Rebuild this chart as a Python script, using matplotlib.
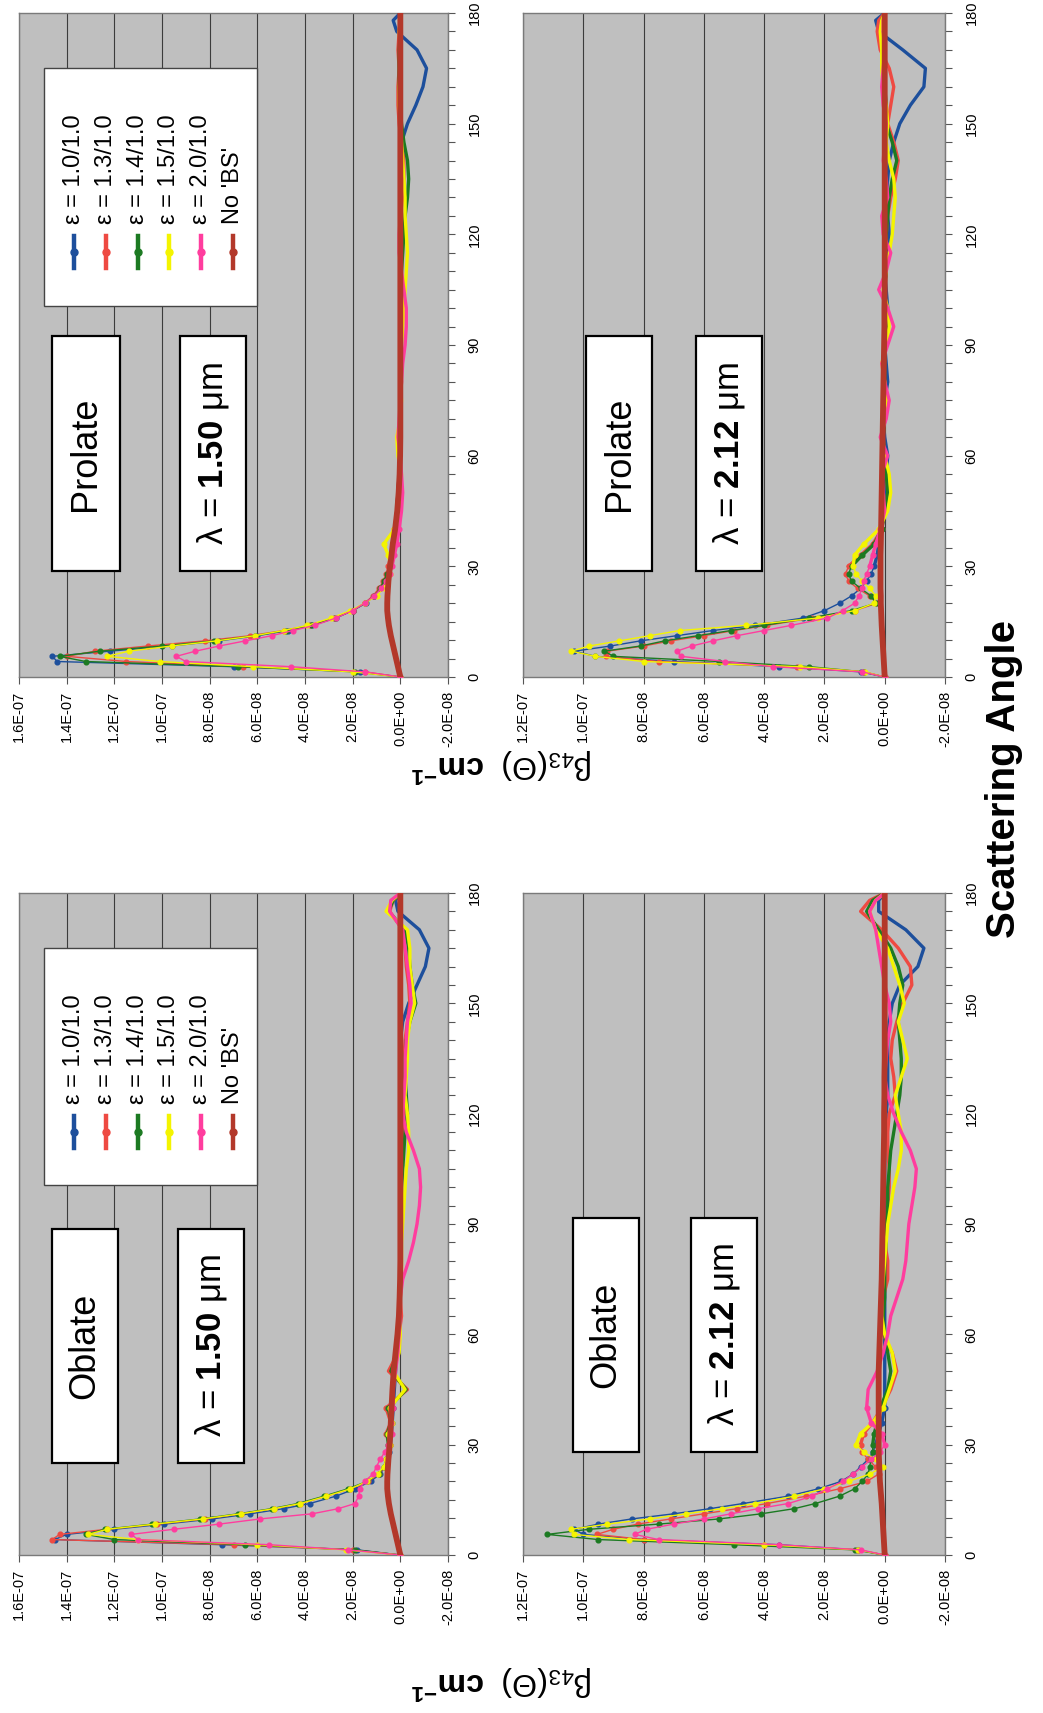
import numpy as np
import matplotlib
matplotlib.use("Agg")
import matplotlib.pyplot as plt
from matplotlib.patches import Rectangle
from matplotlib.lines import Line2D
from matplotlib.ticker import MultipleLocator

plt.rcParams['font.family'] = ['Liberation Sans', 'DejaVu Sans']
plt.rcParams['mathtext.fontset'] = 'custom'
plt.rcParams['mathtext.rm'] = 'Liberation Sans'
plt.rcParams['mathtext.it'] = 'Liberation Sans:italic'
plt.rcParams['mathtext.bf'] = 'Liberation Sans:bold'

# ---------------- data (values in units of 1e-8 cm^-1) ----------------
ANGLES = [0, 1.4, 2.8, 4.2, 5.6, 7, 8.4, 9.8, 11.2, 12.6, 14, 16, 18, 20, 22, 24, 26, 28, 30, 33, 36, 40,
          45, 50, 55, 60, 65, 70, 75, 80, 85, 90,
          95, 100, 105, 110, 115, 120, 125, 130, 135, 140,
          145, 150, 155, 160, 165, 170, 175, 178, 180]

SERIES = ['ε = 1.0/1.0', 'ε = 1.3/1.0', 'ε = 1.4/1.0', 'ε = 1.5/1.0', 'ε = 2.0/1.0', "No 'BS'"]
COLORS = ['#1d4f9c', '#ee4a42', '#1c7a22', '#f4f400', '#ff3d9e', '#b3382a']

# Prolate, lambda = 1.50 um
PRO150_E10 = [0, 1.7, 7.0, 14.4, 14.6, 12.2, 9.6, 7.6, 6.0, 4.7, 3.7, 2.7, 2.0, 1.45, 1.1, 0.85, 0.7, 0.55, 0.45, 0.35, 0.3, 0.22,
              0.15, 0.1, 0.05, 0.03, 0.02, 0, 0, 0, 0, 0,
              0, 0, 0, 0, 0, 0, 0, 0, 0, 0,
              -0.05, -0.3, -0.65, -0.95, -1.1, -0.7, 0.15, 0.3, 0]
PRO150_E13 = [0, 1.5, 6.6, 11.5, 14.0, 12.8, 10.6, 8.2, 6.3, 4.9, 3.8, 2.8, 2.0, 1.5, 1.15, 0.9, 0.72, 0.6, 0.5, 0.4, 0.32, 0.25,
              0.15, 0.1, 0.05, 0.05, 0, 0, 0, -0.05, 0, 0,
              0, -0.05, 0, 0, 0, -0.05, 0, -0.1, -0.15, -0.15,
              -0.05, 0.05, 0.1, 0.1, 0.05, 0.1, 0.05, 0, 0]
PRO150_E14 = [0, 1.9, 6.8, 13.2, 14.3, 12.6, 10.0, 7.8, 6.1, 4.8, 3.75, 2.75, 2.0, 1.5, 1.1, 0.85, 0.7, 0.55, 0.45, 0.35, 0.3, 0.22,
              0.15, 0.1, 0.05, 0, 0.05, 0, 0, 0, 0, 0,
              0, 0, 0, -0.05, -0.1, -0.15, -0.2, -0.3, -0.35, -0.3,
              -0.15, -0.05, 0, 0.05, 0.05, 0.05, 0, 0, 0]
PRO150_E15 = [0, 2.0, 6.2, 10.1, 12.3, 11.4, 9.6, 7.7, 6.1, 4.9, 3.9, 2.9, 2.1, 1.5, 1.0, 0.7, 0.55, 0.45, 0.4, 0.5, 0.7, 0.25,
              0.1, 0.0, -0.05, 0.1, 0.15, 0, -0.05, 0, 0, -0.05,
              -0.1, -0.15, -0.2, -0.25, -0.3, -0.25, -0.2, -0.2, -0.15, -0.1,
              -0.05, 0, 0.05, 0.05, 0, 0, 0.05, 0, 0]
PRO150_E20 = [0, 1.5, 4.6, 9.0, 9.4, 8.6, 7.6, 6.5, 5.4, 4.5, 3.6, 2.7, 2.0, 1.5, 1.1, 0.8, 0.6, 0.45, 0.35, 0.25, 0.15, 0.05,
              -0.05, -0.1, -0.05, 0, 0.1, 0.05, 0, -0.05, -0.1, -0.2,
              -0.25, -0.25, -0.15, -0.05, 0.05, 0.05, 0, -0.05, -0.05, 0,
              0, 0, 0, 0, 0, 0, 0, 0, 0]
PRO150_NOBS = [0, 0.05, 0.1, 0.15, 0.2, 0.25, 0.3, 0.35, 0.4, 0.44, 0.48, 0.52, 0.55, 0.55, 0.54, 0.52, 0.5, 0.47, 0.43, 0.37, 0.32, 0.22,
               0.13, 0.07, 0.03, 0.01, 0, 0, 0, 0, 0, 0,
               0, 0, 0, 0, 0, 0, 0, 0, 0, 0,
               0, 0, 0, 0, 0, 0, 0, 0, 0]

# Prolate, lambda = 2.12 um
PRO212_E10 = [0, 0.8, 3.5, 7.0, 9.6, 10.3, 9.1, 8.1, 6.9, 5.7, 4.3, 2.7, 2.0, 1.5, 1.1, 0.8, 0.6, 0.45, 0.35, 0.25, 0.2, 0.1,
              0.05, 0, -0.05, -0.1, 0, 0.05, 0, -0.1, -0.05, 0,
              -0.05, -0.1, -0.05, 0, -0.1, -0.15, -0.1, -0.05, -0.1, -0.15,
              -0.3, -0.5, -0.85, -1.3, -1.35, -0.6, 0.2, 0.3, 0]
PRO212_E13 = [0, 0.7, 2.9, 7.5, 9.25, 9.2, 8.0, 7.1, 6.0, 5.0, 3.9, 2.4, 1.0, 0.25, 0.5, 0.9, 1.2, 1.3, 1.2, 0.8, 0.4, 0.1,
              0, -0.1, -0.05, 0, 0.05, 0, -0.05, 0, 0.05, 0,
              -0.05, 0, 0, -0.05, 0, -0.05, -0.1, -0.2, -0.35, -0.45,
              -0.3, -0.1, -0.2, -0.3, -0.15, 0.15, 0.25, 0.2, 0]
PRO212_E14 = [0, 0.7, 2.5, 5.5, 9.0, 9.3, 8.1, 7.3, 6.2, 5.1, 4.0, 2.5, 1.1, 0.3, 0.45, 0.8, 1.1, 1.2, 1.1, 0.75, 0.35, 0.1,
              0, -0.1, -0.05, 0, 0.05, 0, 0, 0, 0, 0,
              -0.05, 0, 0, -0.05, 0, -0.05, -0.1, -0.15, -0.25, -0.4,
              -0.25, -0.05, -0.05, 0, 0, 0.05, 0.1, 0.1, 0]
PRO212_E15 = [0, 0.65, 2.8, 8.0, 9.6, 10.4, 9.8, 8.8, 7.8, 6.8, 4.6, 2.2, 1.0, 0.35, 0.3, 0.5, 0.75, 0.95, 1.05, 1.0, 0.7, 0.2,
              -0.1, -0.2, -0.15, 0, 0.1, 0.05, -0.05, 0, 0.1, -0.05,
              -0.15, -0.1, 0.05, -0.05, -0.15, -0.25, -0.3, -0.35, -0.3, -0.15,
              -0.05, -0.1, -0.05, 0.05, 0.1, 0.1, 0.15, 0.1, 0]
PRO212_E20 = [0, 0.75, 3.7, 5.3, 6.75, 6.9, 6.4, 5.7, 4.9, 4.0, 3.1, 1.9, 1.4, 1.0, 0.85, 0.75, 0.7, 0.6, 0.5, 0.4, 0.3, 0.15,
              0, 0.05, 0.1, -0.1, 0.15, -0.05, -0.15, 0.0, 0.1, -0.1,
              -0.3, -0.1, 0.2, -0.05, -0.2, 0.05, 0.1, -0.1, -0.05, 0.05,
              0.0, -0.05, 0.05, 0.1, 0.05, 0, 0.05, 0.05, 0]
PRO212_NOBS = [0, 0.01, 0.02, 0.03, 0.04, 0.05, 0.06, 0.07, 0.08, 0.09, 0.1, 0.11, 0.12, 0.13, 0.13, 0.14, 0.14, 0.14, 0.14, 0.14, 0.13, 0.12,
               0.11, 0.1, 0.09, 0.08, 0.07, 0.06, 0.05, 0.04, 0.03, 0.02,
               0.01, 0.01, 0, 0, 0, 0, 0, 0, 0, 0,
               0, 0, 0, 0, 0, 0, 0, 0, 0]

# Oblate, lambda = 1.50 um
OBL150_E10 = [0, 1.8, 7.5, 14.5, 14.0, 12.0, 9.9, 7.9, 6.3, 4.9, 3.8, 2.7, 1.9, 1.25, 0.85, 0.65, 0.55, 0.48, 0.42, 0.38, 0.34, 0.3,
              0.25, 0.2, 0.15, 0.1, 0.05, 0, 0, 0, 0, 0,
              0, 0, 0, 0, 0, 0, 0, 0, 0, 0,
              -0.1, -0.35, -0.7, -1.05, -1.2, -0.8, 0.1, 0.2, 0]
OBL150_E13 = [0, 2.0, 7.0, 14.6, 14.3, 12.3, 10.2, 8.2, 6.7, 5.3, 4.2, 3.1, 2.1, 1.35, 0.9, 0.65, 0.55, 0.5, 0.45, 0.6, 0.4, 0.6,
              -0.3, 0.5, 0.1, 0.05, -0.05, 0, 0, 0, 0, 0,
              0, 0, -0.05, -0.1, -0.1, -0.15, -0.1, -0.1, -0.15, -0.2,
              -0.3, -0.4, -0.35, -0.25, -0.2, -0.1, 0.45, 0.3, 0]
OBL150_E14 = [0, 1.9, 6.5, 12.0, 13.2, 12.4, 10.4, 8.4, 6.8, 5.4, 4.3, 3.2, 2.2, 1.4, 0.9, 0.7, 0.6, 0.5, 0.5, 0.55, 0.4, 0.5,
              -0.25, 0.4, 0.1, 0.05, 0, 0, 0, 0, 0, -0.05,
              -0.05, -0.05, -0.1, -0.15, -0.2, -0.3, -0.25, -0.2, -0.2, -0.25,
              -0.4, -0.65, -0.5, -0.4, -0.35, -0.2, 0.5, 0.3, 0]
OBL150_E15 = [0, 2.3, 6.0, 11.0, 13.1, 12.3, 10.3, 8.3, 6.7, 5.3, 4.2, 3.1, 2.1, 1.4, 0.95, 0.7, 0.6, 0.5, 0.45, 0.5, 0.35, 0.45,
              -0.2, 0.3, 0.05, 0, 0.05, 0, -0.05, -0.05, -0.05, -0.1,
              -0.15, -0.2, -0.25, -0.35, -0.35, -0.3, -0.2, -0.25, -0.3, -0.3,
              -0.4, -0.6, -0.5, -0.4, -0.4, -0.3, 0.6, 0.35, 0]
OBL150_E20 = [0, 2.2, 5.5, 11.0, 11.3, 9.5, 7.6, 5.9, 3.7, 2.6, 1.9, 1.75, 1.7, 1.5, 1.15, 1.0, 0.85, 0.65, 0.5, 0.35, 0.4, 0.3,
              0.3, 0.2, 0.1, 0.05, 0, 0, -0.1, -0.35, -0.55, -0.7,
              -0.8, -0.85, -0.8, -0.55, -0.25, -0.1, -0.15, -0.2, -0.2, -0.25,
              -0.3, -0.45, -0.4, -0.3, -0.2, -0.1, 0.45, 0.4, 0]
OBL150_NOBS = [0, 0.05, 0.1, 0.15, 0.2, 0.25, 0.3, 0.35, 0.4, 0.44, 0.48, 0.52, 0.55, 0.55, 0.54, 0.52, 0.5, 0.47, 0.45, 0.42, 0.4, 0.37,
               0.33, 0.28, 0.2, 0.12, 0.06, 0.03, 0.01, 0, 0, 0,
               0, 0, 0, 0, 0, 0, 0, 0, 0, 0,
               0, 0, 0, 0, 0, 0, 0, 0, 0]

# Oblate, lambda = 2.12 um
OBL212_E10 = [0, 0.9, 3.5, 8.0, 10.0, 10.3, 9.5, 8.4, 7.0, 5.8, 4.7, 3.2, 2.2, 1.45, 1.05, 0.8, 0.55, 0.4, 0.3, 0.2, 0.1, 0.0,
              0, 0, 0, 0, 0, 0, 0, 0, 0, 0,
              0, 0, 0, 0, -0.05, -0.05, -0.1, -0.1, -0.1, -0.1,
              -0.15, -0.25, -0.5, -1.1, -1.3, -0.7, 0.2, 0.2, 0]
OBL212_E13 = [0, 0.9, 4.0, 8.0, 9.55, 9.0, 8.2, 7.1, 6.0, 4.9, 3.9, 2.6, 1.5, 0.6, 0.2, 0.3, 0.55, 0.75, 0.8, 0.7, 0.4, 0.1,
              -0.2, -0.4, -0.25, 0.05, 0.1, 0.05, -0.1, -0.1, 0, -0.05,
              -0.1, -0.15, -0.15, -0.1, -0.1, -0.15, -0.35, -0.3, -0.2, -0.25,
              -0.4, -0.6, -0.9, -0.85, -0.45, 0.1, 0.8, 0.5, 0]
OBL212_E14 = [0, 1.0, 5.0, 9.5, 11.2, 9.8, 7.5, 5.5, 4.1, 3.0, 2.3, 1.5, 1.0, 0.75, 0.55, 0.5, 0.45, 0.4, 0.4, 0.35, 0.25, 0.15,
              -0.1, -0.2, -0.1, 0, 0.05, 0, 0, 0, -0.05, -0.05,
              -0.1, -0.1, -0.15, -0.2, -0.3, -0.4, -0.5, -0.55, -0.55, -0.5,
              -0.45, -0.5, -0.6, -0.45, -0.2, 0.2, 0.6, 0.4, 0]
OBL212_E15 = [0, 0.9, 4.0, 8.5, 10.3, 10.4, 9.2, 7.8, 6.6, 5.4, 4.3, 3.0, 2.0, 1.2, 0.5, 0.05, 0.3, 0.7, 0.95, 0.8, 0.4, 0.05,
              -0.15, -0.35, -0.25, 0, 0.1, 0.1, 0.05, 0, -0.05, -0.1,
              -0.2, -0.3, -0.45, -0.55, -0.55, -0.45, -0.35, -0.55, -0.75, -0.6,
              -0.45, -0.65, -0.5, -0.3, -0.1, 0.3, 0.5, 0.3, 0]
OBL212_E20 = [0, 0.8, 3.5, 7.5, 8.3, 7.9, 7.0, 6.0, 5.1, 4.2, 3.2, 2.4, 1.9, 1.4, 1.05, 0.75, 0.45, 0.15, 0.0, 0.1, 0.45, 0.6,
              0.55, 0.25, 0.05, -0.1, -0.2, -0.4, -0.6, -0.7, -0.75, -0.8,
              -0.9, -1.0, -1.05, -0.85, -0.55, -0.3, -0.1, 0.0, -0.05, -0.1,
              -0.2, -0.15, 0.0, 0.1, 0.2, 0.3, 0.5, 0.3, 0]
OBL212_NOBS = [0, 0.01, 0.02, 0.03, 0.04, 0.05, 0.06, 0.07, 0.08, 0.09, 0.1, 0.12, 0.14, 0.16, 0.17, 0.18, 0.19, 0.2, 0.2, 0.2, 0.2, 0.2,
               0.2, 0.2, 0.18, 0.16, 0.14, 0.12, 0.1, 0.09, 0.08, 0.07,
               0.06, 0.05, 0.04, 0.03, 0.02, 0.02, 0.01, 0.01, 0, 0,
               0, 0, 0, 0, 0, 0, 0, 0, 0]

VALUE_TICKS_150 = [-2, 0, 2, 4, 6, 8, 10, 12, 14, 16]
VALUE_TICKS_212 = [-2, 0, 2, 4, 6, 8, 10, 12]
ANGLE_TICKS = [0, 30, 60, 90, 120, 150, 180]
SCALE = 1e-8

# ---------------- layout (the whole figure is drawn rotated 90 degrees) ----------------
W, H = 1043, 1713
fig = plt.figure(figsize=(W / 100, H / 100), dpi=100)
fig.patch.set_facecolor('white')


def fx(x):
    return x / W


def fy(y):
    return 1 - y / H


PANELS = [
    dict(shape='Prolate', lam='1.50', rect=(19, 13, 448, 677), ticks=VALUE_TICKS_150,
         data=[PRO150_E10, PRO150_E13, PRO150_E14, PRO150_E15, PRO150_E20, PRO150_NOBS],
         namebox=(52, 336, 120, 571), lambox=(180, 336, 246, 571), legend=(44, 68, 257, 306)),
    dict(shape='Prolate', lam='2.12', rect=(523, 13, 945, 677), ticks=VALUE_TICKS_212,
         data=[PRO212_E10, PRO212_E13, PRO212_E14, PRO212_E15, PRO212_E20, PRO212_NOBS],
         namebox=(586, 336, 652, 571), lambox=(696, 336, 762, 571), legend=None),
    dict(shape='Oblate', lam='1.50', rect=(19, 893, 448, 1555), ticks=VALUE_TICKS_150,
         data=[OBL150_E10, OBL150_E13, OBL150_E14, OBL150_E15, OBL150_E20, OBL150_NOBS],
         namebox=(52, 1229, 118, 1463), lambox=(178, 1229, 244, 1463), legend=(44, 948, 257, 1185)),
    dict(shape='Oblate', lam='2.12', rect=(523, 893, 945, 1555), ticks=VALUE_TICKS_212,
         data=[OBL212_E10, OBL212_E13, OBL212_E14, OBL212_E15, OBL212_E20, OBL212_NOBS],
         namebox=(573, 1218, 639, 1452), lambox=(691, 1218, 757, 1452), legend=None),
]

ang = np.array(ANGLES)
fwd = [i for i, a in enumerate(ANGLES) if a <= 40]
back_start = ANGLES.index(30)


def draw_box(box, text, size):
    x0, y0, x1, y1 = box
    fig.add_artist(Rectangle((fx(x0), fy(y1)), fx(x1) - fx(x0), fy(y0) - fy(y1),
                             transform=fig.transFigure, facecolor='white',
                             edgecolor='black', lw=1.6, zorder=5))
    fig.text(fx((x0 + x1) / 2), fy((y0 + y1) / 2), text, rotation=90, ha='center', va='center',
             fontsize=size, zorder=6)


for p in PANELS:
    x0, y0, x1, y1 = p['rect']
    ax = fig.add_axes([fx(x0), fy(y1), fx(x1) - fx(x0), fy(y0) - fy(y1)])
    ax.set_facecolor('#bfbfbf')
    for k, (vals, col) in enumerate(zip(p['data'], COLORS)):
        v = np.array(vals) * SCALE
        if k == 5:
            ax.plot(v, ang, color=col, lw=4.2, zorder=10, solid_capstyle='round')
        else:
            ax.plot(v, ang, color=col, lw=1.0, marker='o', ms=3.4, markevery=fwd, zorder=3 + k)
            ax.plot(v[back_start:], ang[back_start:], color=col, lw=2.4, zorder=3 + k,
                    solid_joinstyle='round')
    tks = [t * SCALE for t in p['ticks']]
    ax.set_xlim(max(tks), min(tks))
    ax.set_ylim(0, 180)
    ax.set_xticks(tks)
    ax.set_xticklabels([f'{t:.1E}' for t in tks], rotation=90)
    ax.set_yticks(ANGLE_TICKS)
    ax.set_yticklabels([str(a) for a in ANGLE_TICKS], rotation=90, va='center')
    ax.yaxis.set_minor_locator(MultipleLocator(5))
    ax.yaxis.tick_right()
    ax.tick_params(axis='y', which='both', direction='out', length=5, width=0.8,
                   color='#555555', labelsize=10.5, pad=9)
    ax.tick_params(axis='x', direction='out', length=5, width=0.8, color='#555555',
                   labelsize=10.5, pad=5)
    ax.grid(axis='x', color='#3c3c3c', lw=0.8, zorder=1)
    ax.set_axisbelow(True)
    for s in ax.spines.values():
        s.set_color('#7a7a7a')
        s.set_linewidth(1.0)

    draw_box(p['namebox'], p['shape'], 26)
    draw_box(p['lambox'], 'λ = $\\mathbf{' + p['lam'] + '}$ μm', 25)

    if p['legend'] is not None:
        lx0, ly0, lx1, ly1 = p['legend']
        fig.add_artist(Rectangle((fx(lx0), fy(ly1)), fx(lx1) - fx(lx0), fy(ly0) - fy(ly1),
                                 transform=fig.transFigure, facecolor='white',
                                 edgecolor='#444444', lw=1.0, zorder=5))
        xs = np.linspace(lx0 + 30, lx1 - 24, 6)
        for name, col, xx in zip(SERIES, COLORS, xs):
            ya, yb = ly0 + 168, ly0 + 200
            fig.add_artist(Line2D([fx(xx)] * 3, [fy(ya), fy((ya + yb) / 2), fy(yb)],
                                  transform=fig.transFigure, color=col, lw=3.2,
                                  marker='o', ms=5, markevery=[1], zorder=6))
            fig.text(fx(xx), fy(ly0 + 156), name, rotation=90, rotation_mode='anchor',
                     ha='left', va='center', fontsize=17, zorder=6)

# axis titles
YLAB = r'$\mathrm{\beta_{43}(\Theta)}$  $\mathbf{cm}^{\mathbf{-1}}$'
fig.text(fx(502), fy(765), YLAB, rotation=180, ha='center', va='center', fontsize=23)
fig.text(fx(502), fy(1682), YLAB, rotation=180, ha='center', va='center', fontsize=23)
fig.text(fx(1004), fy(779), 'Scattering Angle', rotation=90, ha='center', va='center',
         fontsize=29, fontweight='bold')

fig.savefig('out.png', dpi=100)
